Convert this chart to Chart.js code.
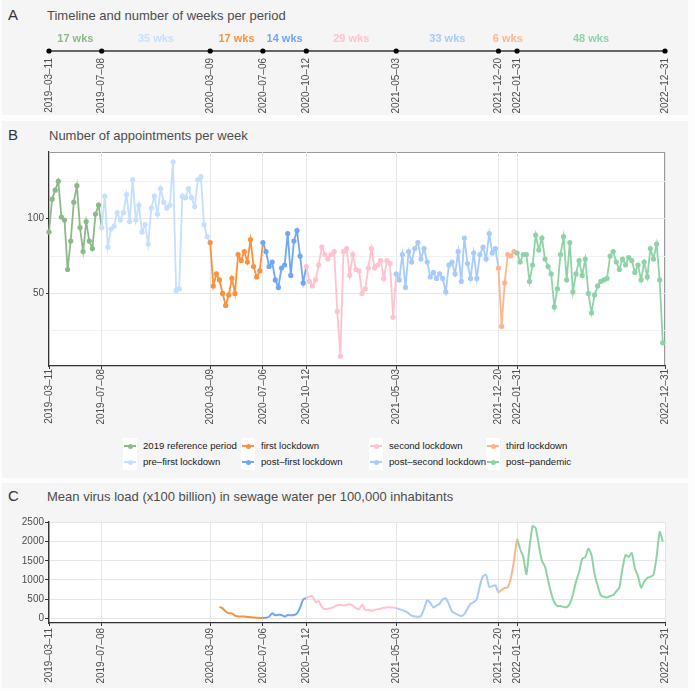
<!DOCTYPE html>
<html>
<head>
<meta charset="utf-8">
<script src="https://cdn.jsdelivr.net/npm/chart.js@4.4.1/dist/chart.umd.min.js"></script>
<style>
  body { margin:0; width:695px; height:691px; position:relative; overflow:hidden; background:#fdfdfd;
         font-family:"Liberation Sans", Arial, Helvetica, sans-serif; }
  .panel { position:absolute; left:2px; width:686px; background:#f5f5f5; }
  .tag { position:absolute; left:8px; font-size:15px; color:#333; line-height:normal; }
  .title { position:absolute; left:47px; font-size:13px; color:#4d4d4d; line-height:normal; white-space:nowrap; }
  canvas { position:absolute; left:0; }
  .lkey { position:absolute; width:14px; height:16px; background:#fff; }
  .lkey i { position:absolute; left:1px; top:7px; width:12px; height:2px; }
  .lkey b { position:absolute; left:4.5px; top:5.5px; width:5px; height:5px; border-radius:50%; }
  .ltxt { position:absolute; font-size:9.6px; line-height:12px; color:#1a1a1a; white-space:nowrap; }
</style>
</head>
<body>
<div class="panel" style="top:0;height:115px"></div>
<div class="panel" style="top:121px;height:357px"></div>
<div class="panel" style="top:483px;height:205px"></div>

<div class="tag" style="top:6px">A</div>
<div class="title" style="top:8px">Timeline and number of weeks per period</div>
<div class="tag" style="top:126px">B</div>
<div class="title" style="top:128px;left:49px">Number of appointments per week</div>
<div class="tag" style="top:487px">C</div>
<div class="title" style="top:489px">Mean virus load (x100 billion) in sewage water per 100,000 inhabitants</div>

<canvas id="cA" width="695" height="90" style="top:25px"></canvas>
<canvas id="cB" width="695" height="282" style="top:144px"></canvas>
<div id="legend"></div>
<canvas id="cC" width="695" height="171" style="top:514px"></canvas>

<script>
'use strict';
// ---- data ----
var tickDates = ['2019-03-11','2019-07-08','2020-03-09','2020-07-06','2020-10-12','2021-05-03','2021-12-20','2022-01-31','2022-12-31'];
var periodNames = ['2019 reference period','pre\u2013first lockdown','first lockdown','post\u2013first lockdown',
                   'second lockdown','post\u2013second lockdown','third lockdown','post\u2013pandemic'];
var periodWeeks = [17, 35, 17, 14, 29, 33, 6, 48];
var periodColors = ['#8DB98A','#C4DFFF','#F8923E','#6FA6F6','#FFC2CE','#A7CBFA','#FDB68C','#8ED3A8'];

// appointments per week, one array per period
var apptRef = [91,113,119,125,101,99,66,85,111,122,94,78,98,85,80,103,109];
var apptPreFirst = [94,115,81,93,95,104,99,104,116,98,126,99,109,91,96,83,107,115,103,120,111,107,109,138,52,53,115,114,120,114,108,126,128,96,88];
var apptFirstLockdown = [84,55,63,59,50,42,49,60,50,76,72,78,71,86,68,61,65];
var apptPostFirst = [84,78,68,71,59,54,67,69,90,62,85,92,75,57];
var apptSecondLockdown = [68,58,55,59,69,81,76,73,76,78,38,8,78,80,62,76,66,65,50,53,67,80,67,69,72,60,72,70,34];
var apptPostSecond = [63,59,76,54,78,71,80,84,73,80,71,61,64,60,63,60,51,69,71,63,78,58,87,70,60,77,60,76,81,73,90,77,80];
var apptThirdLockdown = [67,28,57,76,75,78];
var apptPostPandemic = [77,71,76,76,58,69,89,79,87,73,68,63,41,53,76,88,59,84,51,63,72,62,73,50,37,49,55,58,59,60,75,78,71,66,73,69,74,72,64,69,59,71,61,80,73,83,59,17];

// mean virus load per week (x100 billion), starts in week 55 (first lockdown)
var loadStartWeek = 55;
var loadFirstLockdown = [300,260,180,130,130,70,50,45,45,35,30,20,15,10];
var loadPostFirst = [10,15,40,130,80,90,85,45,85,80,85,130,280,490];
var loadSecondLockdown = [530,570,575,420,450,300,240,250,270,300,340,355,335,345,370,330,270,234,360,217,215,200,215,240,250,275,285,285,280];
var loadPostSecond = [265,240,215,180,130,70,45,43,60,250,470,400,280,330,380,500,520,370,180,130,90,60,110,250,380,420,500,850,1100,1130,820,840,860];
var loadThirdLockdown = [680,740,790,810,1050,1500];
var loadPostPandemic = [2050,1800,1600,1150,1850,2400,2350,1900,1500,1350,1000,650,420,320,320,300,290,380,620,950,1200,1550,1600,1820,1650,1150,850,600,560,540,580,600,700,800,1300,1650,1600,1700,1300,1100,800,950,1050,1080,1130,1600,2250,2000];

// ---- helpers ----
function dayOf(s) {
  var p = s.split('-');
  return Math.round((Date.UTC(+p[0], +p[1]-1, +p[2]) - Date.UTC(2019, 2, 11)) / 86400000);
}
var tickDays = tickDates.map(dayOf);
var tickLabels = tickDates.map(function(d){ return d.replace(/-/g, '\u2013'); });

function buildSeries(lists, firstWeek, firstPeriod) {
  var pts = [], per = [], w = firstWeek;
  lists.forEach(function(arr, k) {
    arr.forEach(function(v) { pts.push({x: w*7, y: v}); per.push(firstPeriod + k); w++; });
  });
  return {pts: pts, per: per};
}
var appt = buildSeries([apptRef, apptPreFirst, apptFirstLockdown, apptPostFirst, apptSecondLockdown,
                        apptPostSecond, apptThirdLockdown, apptPostPandemic], 0, 0);
var load = buildSeries([loadFirstLockdown, loadPostFirst, loadSecondLockdown, loadPostSecond,
                        loadThirdLockdown, loadPostPandemic], loadStartWeek, 2);

Chart.defaults.font.family = '"Liberation Sans", Arial, Helvetica, sans-serif';
Chart.defaults.font.size = 10;
Chart.defaults.color = '#4d4d4d';

var TXT = '#4d4d4d', GRID = '#e6e6e6', AXIS = '#333';

function dateAxis(o) {
  return {
    type: 'linear', min: 0, max: tickDays[tickDays.length-1],
    afterBuildTicks: function(s) { s.ticks = tickDays.map(function(v){ return {value: v}; }); },
    afterFit: function(s) { s.height = o.height; },
    ticks: { autoSkip: false, minRotation: 90, maxRotation: 90, padding: o.pad, color: TXT,
             font: {size: 10}, callback: function(v, i) { return tickLabels[i]; } },
    grid: { display: o.grid, drawTicks: o.grid, tickLength: 3, color: GRID, tickColor: AXIS, lineWidth: 1 },
    border: { display: o.grid, color: AXIS, width: 1.2 }
  };
}

var areaBg = {
  id: 'areaBg',
  beforeDraw: function(chart, args, opt) {
    if (!opt.fill) return;
    var a = chart.chartArea, c = chart.ctx;
    c.save();
    c.fillStyle = '#fff';
    c.fillRect(a.left, a.top, a.right - a.left, a.bottom - a.top);
    if (opt.frame) {
      c.strokeStyle = opt.frame; c.lineWidth = 1;
      c.strokeRect(a.left + 0.5, a.top + 0.5, a.right - a.left - 1, a.bottom - a.top - 1);
    }
    c.restore();
  }
};

var wksLabels = {
  id: 'wksLabels',
  afterDatasetsDraw: function(chart, args, opt) {
    if (!opt.show) return;
    var x = chart.scales.x, c = chart.ctx;
    c.save();
    c.font = 'bold 11px "Liberation Sans", Arial, sans-serif';
    c.textAlign = 'center'; c.textBaseline = 'middle';
    periodWeeks.forEach(function(n, p) {
      var mid = (tickDays[p] + tickDays[p+1]) / 2;
      c.fillStyle = periodColors[p];
      c.fillText(n + ' wks', x.getPixelForValue(mid), 14);
    });
    c.restore();
  }
};
Chart.register(areaBg, wksLabels);

// ---- A: timeline ----
new Chart(document.getElementById('cA'), {
  type: 'line',
  data: { datasets: [{
    data: tickDays.map(function(d){ return {x: d, y: 0}; }),
    borderColor: '#666', borderWidth: 1.8,
    pointRadius: 2.6, pointBackgroundColor: '#000', pointBorderWidth: 0, clip: false
  }]},
  options: {
    responsive: false, animation: false, events: [],
    layout: { padding: {top: 22, left: 49, right: 30, bottom: 0} },
    plugins: { legend: {display: false}, tooltip: {enabled: false}, wksLabels: {show: true}, areaBg: {fill: false} },
    scales: {
      x: dateAxis({height: 60, pad: 3, grid: false}),
      y: { display: false, min: -1, max: 1 }
    }
  }
});

// ---- B: appointments ----
new Chart(document.getElementById('cB'), {
  type: 'line',
  data: { datasets: [{
    data: appt.pts, borderWidth: 1.8, tension: 0, clip: false,
    pointRadius: 2.6, pointBorderWidth: 0,
    pointBackgroundColor: function(c) { return periodColors[appt.per[c.dataIndex]]; },
    segment: { borderColor: function(c) { return periodColors[appt.per[c.p0DataIndex]]; } }
  }]},
  options: {
    responsive: false, animation: false, events: [],
    layout: { padding: {top: 8, left: 0, right: 30, bottom: 0} },
    plugins: { legend: {display: false}, tooltip: {enabled: false}, areaBg: {fill: true, frame: '#999'} },
    scales: {
      x: dateAxis({height: 60, pad: 0, grid: true}),
      y: {
        min: 1.5, max: 144.5,
        afterBuildTicks: function(s) { s.ticks = [25,50,75,100,125].map(function(v){ return {value: v}; }); },
        afterFit: function(s) { s.width = 49; },
        ticks: { padding: 2, color: TXT, callback: function(v) { return v % 50 === 0 ? String(v) : ''; } },
        grid: { tickLength: 3,
                color: function(c) { return c.tick && c.tick.value % 50 === 0 ? GRID : '#f1f1f1'; },
                tickColor: function(c) { return c.tick && c.tick.value % 50 === 0 ? AXIS : 'rgba(0,0,0,0)'; } },
        border: { color: AXIS, width: 1.2 }
      }
    }
  }
});

// ---- B legend (column-major, 4 columns x 2 rows) ----
var legendTextX = [143, 261, 389, 506];
var legendRowY = [446, 462];
var lg = document.getElementById('legend');
periodNames.forEach(function(name, p) {
  var col = Math.floor(p / 2), row = p % 2;
  var tx = legendTextX[col], cy = legendRowY[row];
  var key = document.createElement('div');
  key.className = 'lkey';
  key.style.left = (tx - 20) + 'px'; key.style.top = (cy - 8) + 'px';
  key.innerHTML = '<i style="background:' + periodColors[p] + '"></i><b style="background:' + periodColors[p] + '"></b>';
  lg.appendChild(key);
  var t = document.createElement('div');
  t.className = 'ltxt';
  t.style.left = tx + 'px'; t.style.top = (cy - 6) + 'px';
  t.textContent = name;
  lg.appendChild(t);
});

// ---- C: virus load ----
new Chart(document.getElementById('cC'), {
  type: 'line',
  data: { datasets: [{
    data: load.pts, borderWidth: 2, tension: 0.2, pointRadius: 0, clip: false,
    segment: { borderColor: function(c) { return periodColors[load.per[c.p0DataIndex]]; } },
    borderColor: periodColors[2]
  }]},
  options: {
    responsive: false, animation: false, events: [],
    layout: { padding: {top: 8, left: 0, right: 30, bottom: 0} },
    plugins: { legend: {display: false}, tooltip: {enabled: false}, areaBg: {fill: true} },
    scales: {
      x: dateAxis({height: 62, pad: 2, grid: true}),
      y: {
        min: -122, max: 2510,
        afterBuildTicks: function(s) { s.ticks = [0,500,1000,1500,2000,2500].map(function(v){ return {value: v}; }); },
        afterFit: function(s) { s.width = 49; },
        ticks: { padding: 1, color: TXT, callback: function(v) { return String(v); } },
        grid: { tickLength: 4, color: GRID, tickColor: AXIS },
        border: { color: AXIS, width: 1.4 }
      }
    }
  }
});
</script>
</body>
</html>
